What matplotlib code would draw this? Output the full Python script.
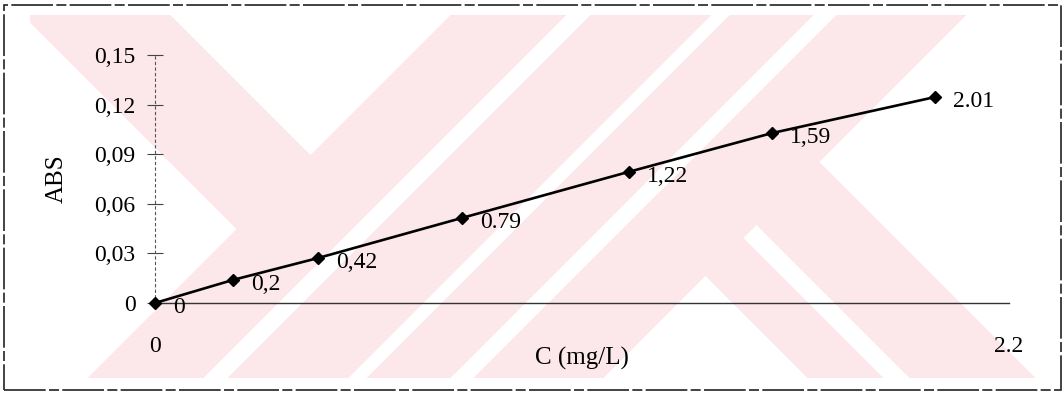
import numpy as np
import matplotlib
matplotlib.use('Agg')
import matplotlib.pyplot as plt
from matplotlib.patches import Rectangle

# calibration data
conc = [0, 0.2, 0.42, 0.79, 1.22, 1.59, 2.01]
absorb = [0, 0.0139, 0.0272, 0.0514, 0.0793, 0.1028, 0.1246]
point_labels = ['0', '0,2', '0,42', '0.79', '1,22', '1,59', '2.01']

yticks = [0, 0.03, 0.06, 0.09, 0.12, 0.15]
ytick_labels = ['0', '0,03', '0,06', '0,09', '0,12', '0,15']
xticks = [0, 2.2]
xtick_labels = ['0', '2.2']

plt.rcParams['font.family'] = ['Liberation Serif', 'DejaVu Serif']

W, H = 1064, 394
fig = plt.figure(figsize=(W / 100, H / 100), dpi=100)
fig.patch.set_facecolor('white')

# pale pink watermark behind the chart (scan background)
yy, xx = np.mgrid[0:H, 0:W]
s = xx + yy
d = xx - yy
inrect = (xx >= 30) & (xx <= 1035) & (yy >= 15) & (yy <= 377)
stripes = ((s >= 581) & (s <= 604)) | ((s >= 726) & (s <= 743)) | ((s >= 828) & (s <= 850))
pink = ((s <= 464) & (d >= 8) & (d <= 155)) \
    | ((s > 464) & (s <= 980) & ~stripes) \
    | ((s > 980) & (((d >= 430) & (d <= 505)) | ((d >= 532) & (d <= 657))))
pink &= inrect
img = np.full((H, W, 3), 255, dtype=np.uint8)
img[pink] = (252, 231, 235)
fig.figimage(img, xo=0, yo=0, zorder=-5)

# outer frame (scanned, slightly broken line)
fig.add_artist(Rectangle((4 / W, 1 - 390 / H), (1061 - 4) / W, (390 - 5) / H,
                         transform=fig.transFigure, fill=False, lw=1.2,
                         ec='#222222', ls=(0, (25, 2, 6, 2))))

ax = fig.add_axes([155 / W, 1 - 303 / H, (1009 - 155) / W, (303 - 55) / H])
ax.patch.set_visible(False)
ax.set_zorder(2)

ax.plot(conc, absorb, color='black', lw=1.9, marker='D', markersize=6.5,
        clip_on=False, zorder=3)
for x, y, t in zip(conc, absorb, point_labels):
    ax.annotate(t, (x, y), xytext=(13, -3), textcoords='offset points',
                ha='left', va='center', fontsize=17)

ax.set_xlim(0, 2.2)
ax.set_ylim(0, 0.15)

ax.set_yticks(yticks)
ax.set_yticklabels(ytick_labels)
ax.set_xticks(xticks)
ax.set_xticklabels(xtick_labels)
ax.set_xticks([2.2], minor=True)

ax.tick_params(axis='y', direction='inout', length=12, width=0.8, pad=8,
               labelsize=17, color='#444444')
ax.tick_params(axis='x', which='major', length=0, pad=24, labelsize=17)
ax.tick_params(axis='x', which='minor', direction='out', length=7, width=0.8,
               color='#444444')

for side in ['top', 'right']:
    ax.spines[side].set_visible(False)
ax.spines['left'].set_linestyle((0, (2, 3)))
ax.spines['left'].set_color('#555555')
ax.spines['left'].set_linewidth(0.8)
ax.spines['bottom'].set_color('#333333')
ax.spines['bottom'].set_linewidth(1.0)

ax.set_xlabel('C (mg/L)', fontsize=18)
ax.xaxis.label.set_va('center')
ax.xaxis.set_label_coords(0.5, -(358 - 303) / 248)
ax.set_ylabel('ABS', fontsize=18)
ax.yaxis.label.set_va('center')
ax.yaxis.set_label_coords(-(155 - 57) / 854, 0.5)

fig.savefig('out.png', dpi=100)
